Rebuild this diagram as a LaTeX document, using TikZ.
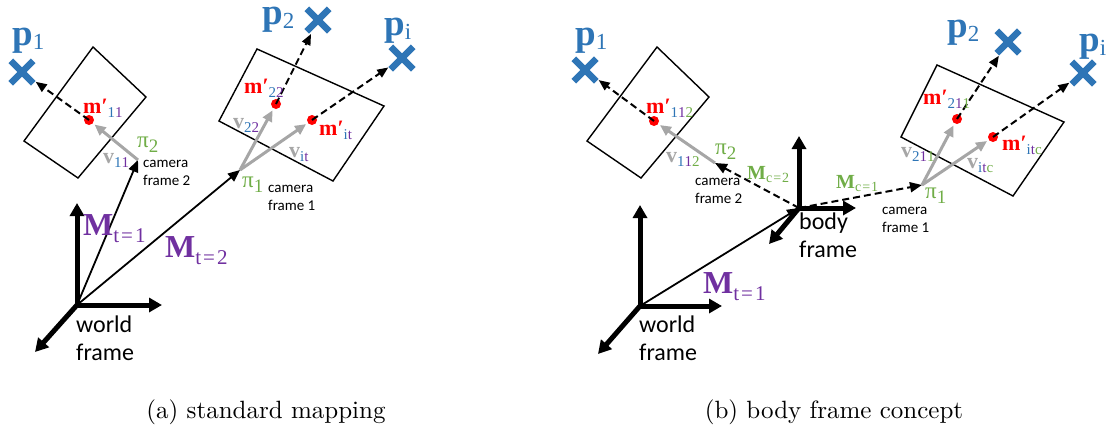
\documentclass[tikz,border=0pt]{standalone}
\usepackage{fontspec}
\usepackage{tikz}
\usetikzlibrary{arrows.meta, shapes.misc}
\newfontfamily\lsfont{Liberation Serif}
\newfontfamily\cbfont{Carlito}
\newfontfamily\capfont{lmroman10-regular.otf}
\definecolor{pblue}{RGB}{46,117,182}
\definecolor{mpurple}{RGB}{112,48,160}
\definecolor{cgreen}{RGB}{112,173,71}
\definecolor{vgray}{RGB}{166,166,166}
\newcommand{\blu}[1]{\textcolor{pblue}{#1}}
\newcommand{\pur}[1]{\textcolor{mpurple}{#1}}
\newcommand{\grn}[1]{\textcolor{cgreen}{#1}}
\newcommand{\labp}[1]{\textcolor{pblue}{{\fontsize{37}{37}\selectfont\bfseries p}\raisebox{-4pt}{\fontsize{23}{23}\selectfont #1}}}
\newcommand{\labm}[1]{\textcolor{red}{\fontsize{22}{22}\selectfont\bfseries m′}\raisebox{-4pt}{\fontsize{15}{15}\selectfont #1}}
\newcommand{\labv}[1]{\textcolor{vgray}{\fontsize{22}{22}\selectfont\bfseries v}\raisebox{-4pt}{\fontsize{15}{15}\selectfont #1}}
\newcommand{\labpi}[1]{\textcolor{cgreen}{\fontsize{23}{23}\selectfont π\raisebox{-5pt}{\fontsize{19}{19}\selectfont #1}}}
\newcommand{\labMt}[1]{\textcolor{mpurple}{{\fontsize{32}{32}\selectfont\bfseries M}\raisebox{-7pt}{\fontsize{21}{21}\selectfont t\kern2pt=\kern2pt#1}}}
\newcommand{\labMc}[1]{\textcolor{cgreen}{{\fontsize{20}{20}\selectfont\bfseries M}\raisebox{-3pt}{\fontsize{14}{14}\selectfont c\kern1pt=\kern1pt#1}}}
\tikzset{
  plane/.style={line width=1.4pt},
  axis/.style={line width=5pt, line cap=round, -{Triangle[length=13pt,width=14pt]}},
  pose/.style={line width=1.8pt, -{Triangle[length=12pt,width=10pt]}},
  extr/.style={line width=2pt, dash pattern=on 7pt off 4pt, -{Triangle[length=12pt,width=10pt]}},
  ray/.style={line width=2pt, dash pattern=on 7pt off 4pt, shorten >=3pt, -{Triangle[length=11pt,width=9pt]}},
  proj/.style={vgray, line width=3pt, shorten >=2pt, -{Triangle[length=11pt,width=10pt]}},
  rdot/.style={circle, fill=red, inner sep=0pt, minimum size=10pt},
  xmk/.style={cross out, draw=pblue, line width=6.5pt, inner sep=0pt, minimum size=16pt},
  lbl/.style={anchor=base west, inner sep=0pt, font=\lsfont},
  cam/.style={anchor=base west, inner sep=0pt, align=left, font=\cbfont\fontsize{15}{18}\selectfont},
  frm/.style={anchor=base west, inner sep=0pt, align=left, font=\cbfont\fontsize{24}{28}\selectfont},
  capt/.style={anchor=base, inner sep=0pt, font=\capfont\fontsize{25}{30}\selectfont},
}
\begin{document}
\begin{tikzpicture}[x=1pt, y=-1pt]
\useasboundingbox (0,0) rectangle (1112,432);
% (a) standard mapping
\draw[plane] (93,47) -- (146,97) -- (78,178) -- (24,141) -- cycle;
\draw[plane] (257,49) -- (384,106) -- (333,181) -- (219,121) -- cycle;
\coordinate (wa) at (77,305);
\coordinate (wax) at (162,305);
\coordinate (way) at (77,203);
\coordinate (waz) at (35,352);
\coordinate (cama2) at (138,160);
\coordinate (cama1) at (240,170);
\draw[pose] (wa) -- (cama2);
\draw[pose] (wa) -- (cama1);
\draw[axis] (wa) -- (way);
\draw[axis] (wa) -- (wax);
\draw[axis] (wa) -- (waz);
\node[rdot] (ma11) at (89,120) {};
\node[rdot] (ma22) at (276,104) {};
\node[rdot] (mait) at (312,120) {};
\node[xmk] (pa1) at (22,72) {};
\node[xmk] (pa2) at (318,20) {};
\node[xmk] (pai) at (402,58) {};
\draw[ray] (ma11.center) -- (pa1);
\draw[ray] (ma22.center) -- (pa2);
\draw[ray] (mait.center) -- (pai);
\draw[proj] (cama2) -- (ma11);
\draw[proj] (cama1) -- (ma22);
\draw[proj] (cama1) -- (mait);
\node[lbl] (lpa1) at (12,45) {\labp{1}};
\node[lbl] (lpa2) at (262,24) {\labp{2}};
\node[lbl] (lpai) at (384,35) {\labp{i}};
\node[lbl] (lma11) at (83,113) {\labm{\blu{1}\pur{1}}};
\node[lbl] (lva11) at (103,163) {\labv{\blu{1}\pur{1}}};
\node[lbl] (lma22) at (244,93) {\labm{\blu{2}\pur{2}}};
\node[lbl] (lva22) at (233,128) {\labv{\blu{2}\pur{2}}};
\node[lbl] (lmait) at (319,135) {\labm{\blu{i}\pur{t}}};
\node[lbl] (lvait) at (289,157) {\labv{\blu{i}\pur{t}}};
\node[lbl] (lpia2) at (137,147) {\labpi{2}};
\node[lbl] (lpia1) at (242,187) {\labpi{1}};
\node[cam] (tca2) at (143,185) {camera\\frame 2};
\node[cam] (tca1) at (268,210) {camera\\frame 1};
\node[lbl] (lMa1) at (83,235) {\labMt{1}};
\node[lbl] (lMa2) at (165,257) {\labMt{2}};
\node[frm] (twa) at (76,360) {world\\frame};
% (b) body frame concept
\draw[plane] (657,47) -- (709,97) -- (641,178) -- (587,141) -- cycle;
\draw[plane] (937,65) -- (1064,122) -- (1013,196) -- (901,137) -- cycle;
\coordinate (wb) at (640,306);
\coordinate (wbx) at (722,306);
\coordinate (wby) at (640,205);
\coordinate (wbz) at (598,354);
\coordinate (bb) at (799,208);
\coordinate (bbx) at (856,208);
\coordinate (bby) at (799,136);
\coordinate (bbz) at (769,244);
\coordinate (camb2) at (715,163);
\coordinate (camb1) at (922,185);
\draw[pose] (wb) -- (bb);
\draw[extr] (bb) -- (camb2);
\draw[extr] (bb) -- (camb1);
\draw[axis] (wb) -- (wby);
\draw[axis] (wb) -- (wbx);
\draw[axis] (wb) -- (wbz);
\draw[axis] (bb) -- (bby);
\draw[axis] (bb) -- (bbx);
\draw[axis] (bb) -- (bbz);
\node[rdot] (mb112) at (654,121) {};
\node[rdot] (mb211) at (957,119) {};
\node[rdot] (mbitc) at (993,137) {};
\node[xmk] (pb1) at (585,70) {};
\node[xmk] (pb2) at (1008,42) {};
\node[xmk] (pbi) at (1083,73) {};
\draw[ray] (mb112.center) -- (pb1);
\draw[ray] (mb211.center) -- (pb2);
\draw[ray] (mbitc.center) -- (pbi);
\draw[proj] (camb2) -- (mb112);
\draw[proj] (camb1) -- (mb211);
\draw[proj] (camb1) -- (mbitc);
\node[lbl] (lpb1) at (575,45) {\labp{1}};
\node[lbl] (lpb2) at (947,37) {\labp{2}};
\node[lbl] (lpbi) at (1079,51) {\labp{i}};
\node[lbl] (lmb112) at (646,113) {\labm{\blu{1}\pur{1}\grn{2}}};
\node[lbl] (lvb112) at (666,162) {\labv{\blu{1}\pur{1}\grn{2}}};
\node[lbl] (lmb211) at (923,104) {\labm{\blu{2}\pur{1}\grn{1}}};
\node[lbl] (lvb211) at (901,157) {\labv{\blu{2}\pur{1}\grn{1}}};
\node[lbl] (lmbitc) at (1002,150) {\labm{\blu{i}\pur{t}\grn{c}}};
\node[lbl] (lvbitc) at (967,168) {\labv{\blu{i}\pur{t}\grn{c}}};
\node[lbl] (lpib2) at (715,154) {\labpi{2}};
\node[lbl] (lpib1) at (925,198) {\labpi{1}};
\node[lbl] (lMc2) at (747,179) {\labMc{2}};
\node[lbl] (lMc1) at (836,188) {\labMc{1}};
\node[lbl] (lMb1) at (703,293) {\labMt{1}};
\node[cam] (tcb2) at (695,203) {camera\\frame 2};
\node[cam] (tcb1) at (882,232) {camera\\frame 1};
\node[frm] (tbb) at (799,257) {body\\frame};
\node[frm] (twb) at (639,360) {world\\frame};
% captions
\node[capt] (capa) at (266,418) {(a) standard mapping};
\node[capt] (capb) at (834,418) {(b) body frame concept};
\end{tikzpicture}
\end{document}
